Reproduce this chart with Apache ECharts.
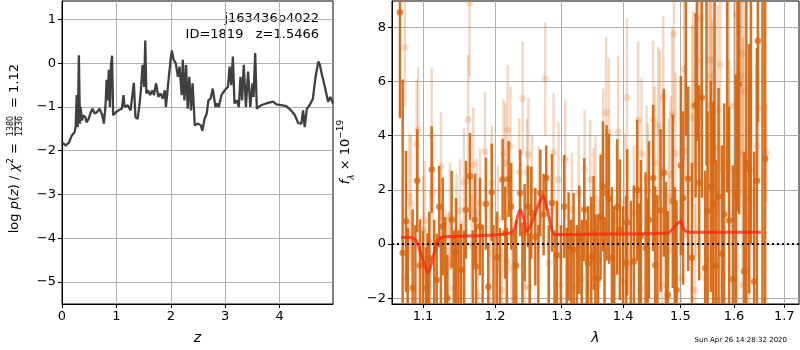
<!DOCTYPE html>
<html>
<head>
<meta charset="utf-8">
<script src="https://cdn.jsdelivr.net/npm/echarts@6/dist/echarts.min.js"></script>
<style>
  html, body { margin: 0; padding: 0; background: #fff; }
  #chart { width: 800px; height: 350px; }
</style>
</head>
<body>
<div id="chart"></div>
<script>
// left panel: redshift probability
const zGrid = [0, 0.07, 0.13, 0.18, 0.23, 0.25, 0.27, 0.29, 0.31, 0.33, 0.34, 0.37, 0.39, 0.43, 0.45, 0.49, 0.53, 0.56, 0.60, 0.64,
  0.69, 0.74, 0.77, 0.80, 0.82, 0.84, 0.86, 0.88, 0.90, 0.92, 0.94, 0.99, 1.06, 1.10, 1.13, 1.15, 1.21, 1.26, 1.32, 1.35,
  1.39, 1.42, 1.45, 1.48, 1.51, 1.53, 1.55, 1.58, 1.62, 1.66, 1.69, 1.73, 1.77, 1.81, 1.85, 1.89, 1.91, 1.96, 2.00, 2.02,
  2.05, 2.09, 2.13, 2.16, 2.20, 2.22, 2.25, 2.28, 2.31, 2.34, 2.37, 2.40, 2.44, 2.50, 2.55, 2.58, 2.62, 2.66, 2.69, 2.73,
  2.77, 2.82, 2.85, 2.88, 2.93, 2.99, 3.05, 3.08, 3.11, 3.14, 3.17, 3.21, 3.25, 3.28, 3.31, 3.34, 3.38, 3.42, 3.46, 3.50,
  3.52, 3.55, 3.58, 3.66, 3.75, 3.88, 3.94, 4.03, 4.12, 4.21, 4.28, 4.34, 4.40, 4.43, 4.46, 4.50, 4.55, 4.61, 4.66, 4.71,
  4.74, 4.77, 4.83, 4.89, 4.93, 4.98]
const logPz = [-1.81, -1.88, -1.81, -1.65, -1.58, -1.46, -0.73, -1.46, 0.18, -1.38, -1.00, -1.31, -1.19, -1.23, -1.35, -1.27, -1.12, -1.04, -1.15, -1.12,
  -1.04, -1.19, -1.38, -0.96, -0.38, -0.85, -0.15, -1.00, -0.04, 0.17, -1.19, -1.12, -1.06, -1.04, -0.73, -1.00, -0.96, -1.08, -0.45, -1.23,
  -1.27, -1.00, -0.62, -0.04, -0.54, 0.52, -0.69, -0.62, -0.73, -0.62, -0.73, -0.46, -0.77, -0.69, -0.81, -0.62, -1.00, -0.35, 0.12, 0.29,
  0.08, 0.00, -0.31, -0.08, -0.73, 0.08, -0.85, -0.04, -1.04, -0.31, -1.08, -0.46, -1.42, -1.38, -1.42, -1.54, -1.27, -1.15, -0.85, -0.81,
  -0.58, -1.00, -0.92, -1.00, -0.73, -0.62, -0.54, -0.08, -0.50, 0.15, -0.92, -0.85, -1.00, -0.31, -0.85, -0.04, -1.00, -0.19, -1.00, -0.46,
  -0.77, 0.23, -1.04, -0.96, -0.92, -0.88, -0.94, -0.96, -0.98, -1.08, -1.19, -1.37, -1.38, -1.08, -1.46, -1.04, -0.96, -0.81, -0.31, 0.04,
  -0.04, -0.23, -0.54, -0.88, -0.77, -0.92]

// right panel: spectrum, dark (fit) points
const darkWave = [1.0699, 1.0734, 1.0777, 1.0864, 1.0924, 1.0960, 1.1040, 1.1084, 1.1116, 1.1183, 1.1218, 1.1265, 1.1327, 1.1387, 1.1446, 1.1515,
  1.1585, 1.1641, 1.1711, 1.1725, 1.1782, 1.1867, 1.1900, 1.1950, 1.2026, 1.2108, 1.2146, 1.2196, 1.2234, 1.2308, 1.2368, 1.2434,
  1.2483, 1.2533, 1.2594, 1.2670, 1.2721, 1.2761, 1.2849, 1.2926, 1.3041, 1.3110, 1.3189, 1.3279, 1.3359, 1.3419, 1.3472, 1.3511,
  1.3581, 1.3625, 1.3663, 1.3724, 1.3762, 1.3812, 1.3900, 1.3945, 1.4052, 1.4069, 1.4182, 1.4239, 1.4302, 1.4384, 1.4442, 1.4516,
  1.4551, 1.4646, 1.4704, 1.4775, 1.4864, 1.4931, 1.5008, 1.5049, 1.5141, 1.5209, 1.5277, 1.5343, 1.5393, 1.5455, 1.5499, 1.5561,
  1.5605, 1.5655, 1.5706, 1.5768, 1.5812, 1.5907, 1.5978, 1.6036, 1.6100, 1.6197, 1.6240, 1.6295, 1.6394, 1.6448, 1.6467, 1.6612]
const darkFlux = [8.55, -0.33, 0.84, -1.62, 2.34, -0.79, -1.62, -0.51, 2.75, -1.32, 1.38, 0.65, -1.99, 0.90, -0.30, -0.95,
  1.27, 2.50, 0.90, -0.83, 0.65, 1.49, -1.57, 1.91, -0.50, 2.38, 0.42, 2.40, 1.39, -0.80, 1.89, 0.42,
  1.39, 1.16, 0.27, 1.89, 1.09, 2.44, 1.52, -0.40, 1.39, -0.09, -0.21, 0.16, 1.27, -0.70, -0.46, 0.41,
  -1.30, 1.00, 2.13, 1.89, 1.67, -0.50, 1.37, 0.53, -0.70, 0.80, -0.64, 1.99, 0.30, -0.15, 0.90, 2.44,
  -0.77, 1.24, 2.63, -1.88, 1.58, -1.69, 2.90, 1.70, 2.41, -0.50, 5.12, 2.26, 5.41, -0.89, 1.21, 2.13,
  1.46, -0.80, 1.76, -0.36, 1.09, 0.87, -1.30, 1.86, 5.90, -1.01, 3.00, 2.78, -1.38, 2.34, 7.50, 3.15]
const darkErr = [3.9, 6.4, 2.6, 2.9, 1.9, 1.7, 1.5, 1.7, 1.6, 1.7, 1.5, 1.8, 1.6, 1.8, 2.0, 1.7,
  1.8, 1.6, 1.7, 1.6, 1.8, 1.7, 1.6, 1.8, 1.7, 1.5, 1.7, 1.4, 1.6, 1.7, 1.6, 1.8,
  1.5, 1.7, 1.8, 1.6, 1.5, 1.2, 1.8, 2.0, 1.9, 2.0, 2.1, 2.0, 1.9, 2.1, 2.2, 2.1,
  2.4, 2.3, 2.4, 2.5, 2.4, 2.6, 2.5, 2.6, 2.5, 2.7, 2.8, 2.6, 2.8, 2.8, 2.9, 2.7,
  2.9, 3.0, 3.1, 3.1, 3.2, 3.3, 3.3, 3.2, 3.4, 3.5, 3.4, 3.6, 3.7, 3.6, 3.7, 3.9,
  3.8, 3.9, 4.0, 4.0, 4.1, 4.2, 4.2, 4.4, 4.8, 4.4, 6.0, 4.6, 4.8, 4.9, 3.0, 6.5]

// dark points whose markers fall outside the plotted window (only bars show)
const darkOffWave = [1.0800, 1.0900, 1.1000, 1.1060, 1.1150, 1.1240, 1.1300, 1.1420, 1.1480, 1.1560, 1.1680, 1.1820, 1.1975, 1.2070,
  1.2170, 1.2270, 1.2400, 1.2510, 1.2640, 1.2800, 1.2890, 1.2990, 1.3080, 1.3150, 1.3240, 1.3320, 1.3400, 1.3540, 1.3690,
  1.3850, 1.4000, 1.4130, 1.4270, 1.4420, 1.4590, 1.4740, 1.4900, 1.5100, 1.5300, 1.5480, 1.5630, 1.5870, 1.6070, 1.6330, 1.6560]
const darkOffFlux = [-2.6, -2.8, -2.5, -3.0, -2.4, -2.7, -2.5, -2.9, -2.4, -2.6, -2.8, -2.5, -2.7, -2.4,
  -2.9, -2.6, -2.5, -2.8, -2.4, -2.7, -2.5, -2.9, -2.6, -2.4, -2.8, -2.5, -2.7, -2.6, -2.9,
  -2.6, -2.8, -2.5, -2.9, -2.6, -2.8, -2.4, -2.9, 9.5, 9.8, 9.4, 10.0, 9.9, 10.2, 10.0, 9.8]
const darkOffErr = [3.2, 3.5, 3.0, 3.4, 3.3, 3.0, 3.5, 3.4, 2.9, 3.1, 3.3, 3.2, 3.4, 3.0,
  3.5, 3.1, 3.3, 3.2, 3.1, 3.4, 3.0, 3.6, 3.2, 3.3, 3.5, 3.4, 3.6, 3.7, 3.9,
  4.0, 4.2, 4.1, 4.4, 4.3, 4.6, 4.7, 5.0, 5.5, 6.0, 6.5, 7.0, 8.0, 9.0, 10.0, 12.0]

// right panel: spectrum, light (second) points
const lightWave = [1.0764, 1.0786, 1.0820, 1.0842, 1.0917, 1.0938, 1.1004, 1.1027, 1.1093, 1.1116, 1.1133, 1.1241, 1.1296, 1.1343, 1.1364, 1.1409,
  1.1455, 1.1501, 1.1529, 1.1557, 1.1617, 1.1634, 1.1665, 1.1687, 1.1735, 1.1754, 1.1782, 1.1853, 1.1925, 1.1950, 1.2040, 1.2098,
  1.2120, 1.2149, 1.2171, 1.2181, 1.2222, 1.2245, 1.2353, 1.2404, 1.2434, 1.2468, 1.2488, 1.2506, 1.2544, 1.2645, 1.2746, 1.2798,
  1.2875, 1.2926, 1.2952, 1.2978, 1.3057, 1.3163, 1.3194, 1.3269, 1.3311, 1.3365, 1.3456, 1.3511, 1.3543, 1.3565, 1.3597, 1.3668,
  1.3717, 1.3762, 1.3857, 1.3917, 1.3996, 1.4025, 1.4064, 1.4182, 1.4256, 1.4297, 1.4314, 1.4402, 1.4424, 1.4516, 1.4546, 1.4604,
  1.4634, 1.4674, 1.4692, 1.4793, 1.4823, 1.4852, 1.4882, 1.4913, 1.5003, 1.5063, 1.5094, 1.5215, 1.5233, 1.5264, 1.5282, 1.5332,
  1.5375, 1.5468, 1.5505, 1.5530, 1.5552, 1.5576, 1.5590, 1.5624, 1.5646, 1.5688, 1.5736, 1.5897, 1.5907, 1.6005, 1.6024, 1.6036,
  1.6066, 1.6133, 1.6153, 1.6166, 1.6178, 1.6197, 1.6230, 1.6295, 1.6442, 1.6481, 1.6640]
const lightFlux = [7.26, -1.26, 1.76, 1.52, 3.68, 4.23, 0.53, 0.87, 0.06, 4.01, 1.91, 2.87, -0.58, -0.70, 1.02, -1.63,
  0.50, 1.24, -1.01, 2.28, 4.60, 8.90, -0.06, 2.94, 1.15, -1.88, 1.52, 3.41, -0.33, 2.26, 0.90, -1.69,
  3.34, 3.00, -0.64, 4.21, 3.62, -0.89, 2.65, 5.37, -1.57, 2.63, 3.31, -1.60, 2.01, 1.52, 6.08, -0.70,
  3.37, -0.46, 2.38, -1.51, 3.10, 1.27, -1.57, 1.89, -1.30, 2.75, 2.38, 1.33, 1.67, -1.54, -0.58, 3.24,
  4.85, 4.13, -1.07, 4.13, -1.38, 1.58, 5.41, 1.15, 4.57, -1.67, 3.34, 2.41, 1.95, 4.60, 3.02, 4.38,
  4.13, -1.51, 5.40, 1.76, 2.57, 4.79, 7.75, 3.34, -1.26, 6.45, 3.43, 4.67, 5.10, -1.70, 2.94, 6.74,
  8.33, -1.26, -0.58, 5.12, 6.79, 6.19, 4.66, 3.56, 0.16, 4.94, 6.64, 5.10, 2.81, 5.12, -0.83, 8.46,
  1.64, 6.19, 7.01, -1.51, 3.34, 5.65, -0.95, 1.64, 3.62, 5.00, 3.39]
const lightErr = [2.2, 2.3, 2.3, 2.5, 2.4, 2.3, 2.0, 2.2, 1.9, 2.5, 1.9, 2.0, 1.9, 1.9, 2.0, 2.0,
  2.1, 1.9, 1.9, 2.0, 2.4, 2.7, 1.9, 2.1, 2.0, 1.9, 2.0, 2.2, 2.0, 2.1, 2.0, 1.9,
  2.0, 2.2, 1.9, 2.4, 2.2, 1.9, 2.0, 2.1, 1.9, 2.0, 2.1, 1.8, 2.0, 2.1, 2.1, 2.0,
  2.2, 2.0, 2.1, 1.9, 2.2, 2.1, 1.9, 2.1, 2.0, 2.2, 2.2, 2.2, 2.3, 2.2, 2.2, 2.5,
  2.8, 2.7, 2.3, 2.8, 2.4, 2.5, 2.9, 2.5, 2.9, 2.4, 2.8, 2.7, 2.5, 2.9, 2.8, 2.9,
  3.0, 2.7, 3.0, 2.9, 2.9, 3.2, 3.3, 3.0, 2.9, 3.4, 3.2, 3.4, 3.5, 3.2, 3.4, 3.6,
  3.8, 3.4, 3.5, 3.8, 3.9, 3.8, 3.6, 3.6, 3.5, 3.9, 4.0, 4.1, 4.0, 4.3, 4.0, 4.4,
  4.1, 4.4, 4.4, 4.1, 4.3, 4.4, 4.3, 4.4, 3.0, 2.8, 1.8]

// best-fit model
const modelWave = [1.0713, 1.0851, 1.0917, 1.0983, 1.1030, 1.1070, 1.1116, 1.1183, 1.1251, 1.1364, 1.1996, 1.2220, 1.2285, 1.2363,
  1.2419, 1.2463, 1.2544, 1.2646, 1.2716, 1.2773, 1.2849, 1.2895, 1.3565, 1.4764, 1.4853, 1.4943, 1.5005, 1.5064, 1.5156, 1.6530]
const modelFlux = [0.24, 0.24, 0.10, -0.46, -0.85, -1.05, -0.70, 0.04, 0.26, 0.28, 0.34, 0.41, 0.59, 1.27,
  0.96, 0.47, 0.80, 1.46, 1.76, 1.33, 0.53, 0.35, 0.37, 0.41, 0.53, 0.75, 0.84, 0.53, 0.44, 0.44]

const zTicks = [0, 1, 2, 3, 4]
const pzTicks = [-5, -4, -3, -2, -1, 0, 1]
const waveTicks = [1.1, 1.2, 1.3, 1.4, 1.5, 1.6, 1.7]
const fluxTicks = [-2, 0, 2, 4, 6, 8]

const font = 'DejaVu Sans'
const darkColor = 'rgba(213,100,14,0.92)'
const lightColor = 'rgba(213,100,14,0.25)'

const minus = (v) => String(v).replace('-', '\u2212')
const zip3 = (a, b, c) => a.map((v, i) => [v, b[i], c[i]])

const errorBars = (color, width) => (params, api) => {
    const x = api.value(0)
    const y = api.value(1)
    const e = api.value(2)
    const hi = api.coord([x, y + e])
    const lo = api.coord([x, y - e])
    return {
        type: 'line',
        shape: { x1: hi[0], y1: hi[1], x2: lo[0], y2: lo[1] },
        style: { stroke: color, lineWidth: width },
    }
}

const axisCommon = (ticks, fmt) => ({
    axisLine: { show: true, onZero: false, lineStyle: { color: '#000', width: 1 } },
    axisTick: { show: true, customValues: ticks, length: 4, lineStyle: { color: '#000' } },
    axisLabel: { customValues: ticks, formatter: fmt, color: '#000', fontSize: 13, fontFamily: font, margin: 6 },
    splitLine: { show: true, lineStyle: { color: '#b0b0b0', width: 1 } },
})

const chart = echarts.init(document.getElementById('chart'))

chart.setOption({
    animation: false,
    backgroundColor: '#fff',
    textStyle: { fontFamily: font },
    grid: [
        { left: 62, top: 1, width: 271, height: 303, show: true, borderColor: '#000', borderWidth: 1, outerBoundsMode: 'none' },
        { left: 392, top: 1, width: 407, height: 303, show: true, borderColor: '#000', borderWidth: 1, outerBoundsMode: 'none' },
    ],
    xAxis: [
        {
            gridIndex: 0, type: 'value', min: 0, max: 4.98,
            ...axisCommon(zTicks, (v) => minus(v)),
            name: 'z', nameLocation: 'middle', nameGap: 27,
            nameTextStyle: { fontSize: 14, fontStyle: 'italic', color: '#000', fontFamily: font },
        },
        {
            gridIndex: 1, type: 'log', logBase: 10, min: 1.0597, max: 1.7304,
            ...axisCommon(waveTicks, (v) => Number(v).toFixed(1)),
            name: 'λ', nameLocation: 'middle', nameGap: 27,
            nameTextStyle: { fontSize: 14, fontStyle: 'italic', color: '#000', fontFamily: font },
        },
    ],
    yAxis: [
        { gridIndex: 0, type: 'value', min: -5.5, max: 1.42, ...axisCommon(pzTicks, (v) => minus(v)) },
        { gridIndex: 1, type: 'value', min: -2.21, max: 8.97, ...axisCommon(fluxTicks, (v) => minus(v)) },
    ],
    series: [
        {
            type: 'line', xAxisIndex: 0, yAxisIndex: 0,
            data: zGrid.map((z, i) => [z, logPz[i]]),
            showSymbol: false, clip: true,
            lineStyle: { color: '#404040', width: 2.3 },
        },
        {
            type: 'custom', xAxisIndex: 1, yAxisIndex: 1, z: 1, clip: true,
            encode: { x: 0, y: 1 },
            renderItem: errorBars(lightColor, 2.5),
            data: zip3(lightWave, lightFlux, lightErr),
        },
        {
            type: 'scatter', xAxisIndex: 1, yAxisIndex: 1, z: 2,
            symbolSize: 7, itemStyle: { color: lightColor },
            data: lightWave.map((w, i) => [w, lightFlux[i]]),
        },
        {
            type: 'custom', xAxisIndex: 1, yAxisIndex: 1, z: 3, clip: true,
            encode: { x: 0, y: 1 },
            renderItem: errorBars(darkColor, 2.5),
            data: zip3(darkWave.concat(darkOffWave), darkFlux.concat(darkOffFlux), darkErr.concat(darkOffErr)),
        },
        {
            type: 'scatter', xAxisIndex: 1, yAxisIndex: 1, z: 4,
            symbolSize: 6.5, itemStyle: { color: darkColor },
            data: darkWave.map((w, i) => [w, darkFlux[i]]),
        },
        {
            type: 'line', xAxisIndex: 1, yAxisIndex: 1, z: 5,
            data: modelWave.map((w, i) => [w, modelFlux[i]]),
            showSymbol: false, smooth: 0.25, clip: true,
            lineStyle: { color: 'rgba(255,35,15,0.75)', width: 3 },
            markLine: {
                silent: true, symbol: 'none', label: { show: false },
                lineStyle: { color: '#000', type: [2, 3], width: 2 },
                data: [{ yAxis: 0 }],
            },
        },
    ],
    graphic: [
        {
            type: 'text', x: 319, y: 19,
            style: { text: 'j163436p4022', align: 'right', verticalAlign: 'middle', fontSize: 13, fontFamily: font, fill: '#000' },
        },
        {
            type: 'text', x: 319, y: 35,
            style: { text: 'ID=1819   z=1.5466', align: 'right', verticalAlign: 'middle', fontSize: 13, fontFamily: font, fill: '#000' },
        },
        {
            type: 'text', x: 787, y: 340,
            style: { text: 'Sun Apr 26 14:28:32 2020', align: 'right', verticalAlign: 'middle', fontSize: 7, fontFamily: font, fill: '#000' },
        },
        {
            // y label, left panel
            type: 'group', x: 15, y: 126, rotation: Math.PI / 2,
            children: [
                {
                    type: 'text', x: -17, y: 0,
                    style: {
                        text: '{n|log }{i|p}{n|(}{i|z}{n|) / }{i|χ}{s|2}{n| =}',
                        align: 'right', verticalAlign: 'middle', fill: '#000',
                        rich: {
                            n: { fontSize: 13, fontFamily: font, lineHeight: 18 },
                            i: { fontSize: 13, fontFamily: font, fontStyle: 'italic', lineHeight: 18 },
                            s: { fontSize: 9, fontFamily: font, verticalAlign: 'top', lineHeight: 18 },
                        },
                    },
                },
                { type: 'text', x: 0, y: -4.5, style: { text: '1380', align: 'center', verticalAlign: 'middle', fontSize: 8, fontFamily: font, fill: '#000' } },
                { type: 'line', shape: { x1: -10, y1: 0, x2: 10, y2: 0 }, style: { stroke: '#000', lineWidth: 0.8 } },
                { type: 'text', x: 0, y: 4.5, style: { text: '1236', align: 'center', verticalAlign: 'middle', fontSize: 8, fontFamily: font, fill: '#000' } },
                { type: 'text', x: 18, y: 0, style: { text: '= 1.12', align: 'left', verticalAlign: 'middle', fontSize: 13, fontFamily: font, fill: '#000' } },
            ],
        },
        {
            // y label, right panel
            type: 'text', x: 346, y: 152, rotation: Math.PI / 2,
            style: {
                text: '{i|f}{s|λ}{n| × 10}{p|−19}',
                align: 'center', verticalAlign: 'middle', fill: '#000',
                rich: {
                    n: { fontSize: 13, fontFamily: font, lineHeight: 20 },
                    i: { fontSize: 13, fontFamily: font, fontStyle: 'italic', lineHeight: 20 },
                    s: { fontSize: 9, fontFamily: font, fontStyle: 'italic', verticalAlign: 'bottom', lineHeight: 20 },
                    p: { fontSize: 9, fontFamily: font, verticalAlign: 'top', lineHeight: 20 },
                },
            },
        },
    ],
})
</script>
</body>
</html>
